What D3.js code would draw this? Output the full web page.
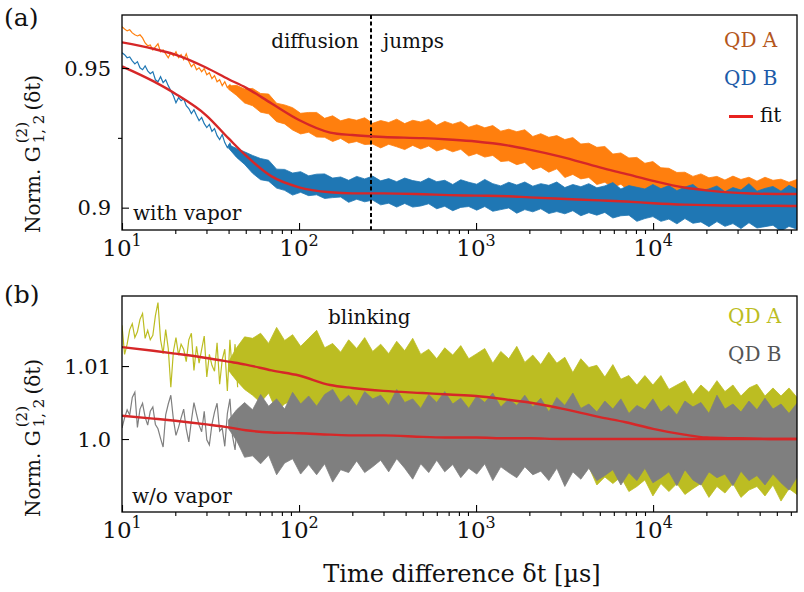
<!DOCTYPE html>
<html>
<head>
<meta charset="utf-8">
<script src="https://cdn.jsdelivr.net/npm/d3@7"></script>
<style>
  body { margin: 0; background: #fff; }
  svg { display: block; }
  text { font-family: "DejaVu Serif", "Liberation Serif", serif; fill: #111; }
</style>
</head>
<body>
<svg id="fig" width="804" height="592"></svg>
<script>
// ---------------- data ----------------
// Sampling times in µs: sparse early trace and dense band (log-spaced)
const earlyT = d3.range(46).map(i => 10 * Math.pow(4.5, i / 45));
const bandT = d3.range(72).map(k => 40 * Math.pow(65000 / 40, k / 71));
const fitT = [10, 15, 20, 30, 40, 50, 70, 100, 150, 200, 300, 500, 700, 1000, 1500,
  2000, 3000, 5000, 7000, 10000, 15000, 20000, 30000, 50000, 65000];

// (a) with vapor — QD A
const aEarlyA = [0.9648,0.9640,0.9633,0.9637,0.9626,0.9619,0.9615,0.9619,0.9608,0.9590,
  0.9580,0.9583,0.9565,0.9576,0.9587,0.9558,0.9565,0.9551,0.9537,0.9555,
  0.9544,0.9558,0.9537,0.9548,0.9530,0.9551,0.9523,0.9505,0.9515,0.9494,
  0.9501,0.9487,0.9498,0.9476,0.9483,0.9462,0.9473,0.9451,0.9458,0.9437,
  0.9451,0.9430,0.9440,0.9419,0.9433,0.9412];
const aHiA = [0.9436,0.9438,0.9425,0.9427,0.9409,0.9407,0.9374,0.9368,0.9358,0.9338,
  0.9341,0.9341,0.9320,0.9329,0.9311,0.9319,0.9313,0.9322,0.9302,0.9312,
  0.9305,0.9317,0.9301,0.9313,0.9307,0.9316,0.9295,0.9309,0.9299,0.9308,
  0.9288,0.9297,0.9286,0.9294,0.9274,0.9281,0.9272,0.9279,0.9255,0.9265,
  0.9252,0.9258,0.9244,0.9251,0.9228,0.9231,0.9216,0.9219,0.9192,0.9196,
  0.9178,0.9180,0.9159,0.9165,0.9143,0.9141,0.9126,0.9127,0.9112,0.9121,
  0.9107,0.9112,0.9099,0.9113,0.9101,0.9109,0.9095,0.9109,0.9098,0.9102,
  0.9091,0.9101];
const aLoA = [0.9424,0.9402,0.9375,0.9365,0.9342,0.9336,0.9308,0.9300,0.9278,0.9264,
  0.9270,0.9253,0.9252,0.9237,0.9248,0.9231,0.9237,0.9226,0.9228,0.9214,
  0.9227,0.9218,0.9208,0.9223,0.9210,0.9221,0.9203,0.9212,0.9200,0.9209,
  0.9185,0.9194,0.9181,0.9187,0.9165,0.9168,0.9154,0.9162,0.9136,0.9145,
  0.9127,0.9139,0.9108,0.9119,0.9103,0.9108,0.9083,0.9091,0.9073,0.9084,
  0.9060,0.9064,0.9048,0.9056,0.9035,0.9040,0.9025,0.9035,0.9018,0.9020,
  0.9006,0.9013,0.9003,0.9010,0.8993,0.9001,0.8993,0.9006,0.8990,0.9001,
  0.8993,0.9000];
const aFitA = [0.9592,0.9569,0.9548,0.9501,0.9460,0.9430,0.9373,0.9314,0.9269,0.9260,
  0.9253,0.9249,0.9244,0.9237,0.9223,0.9208,0.9183,0.9144,0.9121,0.9096,
  0.9072,0.9062,0.9053,0.9049,0.9049];

// (a) with vapor — QD B
const aEarlyB = [0.9555,0.9548,0.9537,0.9540,0.9526,0.9515,0.9523,0.9501,0.9494,0.9508,
  0.9490,0.9480,0.9487,0.9458,0.9451,0.9469,0.9448,0.9458,0.9437,0.9419,
  0.9401,0.9376,0.9394,0.9383,0.9390,0.9365,0.9355,0.9337,0.9351,0.9330,
  0.9312,0.9323,0.9301,0.9287,0.9298,0.9273,0.9283,0.9258,0.9244,0.9262,
  0.9233,0.9215,0.9230,0.9205,0.9212,0.9190];
const aHiB = [0.9225,0.9212,0.9200,0.9187,0.9176,0.9170,0.9138,0.9137,0.9124,0.9129,
  0.9114,0.9120,0.9121,0.9106,0.9110,0.9098,0.9112,0.9103,0.9113,0.9096,
  0.9104,0.9093,0.9106,0.9097,0.9092,0.9106,0.9093,0.9098,0.9083,0.9100,
  0.9091,0.9084,0.9101,0.9086,0.9078,0.9091,0.9081,0.9092,0.9077,0.9086,
  0.9080,0.9092,0.9072,0.9083,0.9075,0.9086,0.9071,0.9078,0.9090,0.9067,
  0.9079,0.9073,0.9067,0.9083,0.9068,0.9079,0.9061,0.9074,0.9083,0.9061,
  0.9067,0.9078,0.9057,0.9072,0.9063,0.9086,0.9059,0.9069,0.9076,0.9059,
  0.9080,0.9066];
const aLoB = [0.9213,0.9180,0.9155,0.9123,0.9100,0.9095,0.9070,0.9062,0.9045,0.9055,
  0.9043,0.9046,0.9033,0.9036,0.9038,0.9019,0.9030,0.9021,0.9027,0.9010,
  0.9016,0.9002,0.9015,0.9002,0.9006,0.9014,0.8996,0.9005,0.8989,0.9001,
  0.9004,0.8991,0.9004,0.8987,0.8993,0.8999,0.8980,0.8993,0.8985,0.8996,
  0.8979,0.8986,0.8978,0.8989,0.8971,0.8982,0.8973,0.8983,0.8963,0.8971,
  0.8973,0.8951,0.8961,0.8968,0.8951,0.8959,0.8942,0.8961,0.8944,0.8949,
  0.8932,0.8950,0.8933,0.8943,0.8925,0.8946,0.8927,0.8932,0.8937,0.8916,
  0.8933,0.8923];
const aFitB = [0.9506,0.9453,0.9408,0.9330,0.9248,0.9187,0.9112,0.9073,0.9055,0.9051,
  0.9051,0.9048,0.9045,0.9043,0.9041,0.9037,0.9032,0.9026,0.9022,0.9016,
  0.9011,0.9009,0.9007,0.9007,0.9006];

// (b) w/o vapor — QD A
const bEarlyA = [1.0156,1.0116,1.0130,1.0150,1.0158,1.0139,1.0147,1.0164,1.0172,1.0138,
  1.0149,1.0136,1.0142,1.0169,1.0187,1.0136,1.0117,1.0150,1.0124,1.0071,
  1.0120,1.0139,1.0115,1.0130,1.0123,1.0106,1.0136,1.0145,1.0094,1.0127,
  1.0104,1.0123,1.0141,1.0085,1.0116,1.0101,1.0093,1.0132,1.0075,1.0109,
  1.0123,1.0066,1.0136,1.0087,1.0130,1.0071];
const bHiA = [1.0106,1.0125,1.0140,1.0138,1.0145,1.0131,1.0153,1.0135,1.0143,1.0127,
  1.0138,1.0149,1.0125,1.0131,1.0119,1.0136,1.0124,1.0139,1.0120,1.0130,
  1.0117,1.0134,1.0121,1.0138,1.0116,1.0123,1.0110,1.0125,1.0115,1.0128,
  1.0110,1.0117,1.0124,1.0104,1.0120,1.0110,1.0127,1.0105,1.0115,1.0102,
  1.0119,1.0104,1.0112,1.0091,1.0110,1.0098,1.0101,1.0085,1.0102,1.0082,
  1.0087,1.0074,1.0087,1.0074,1.0087,1.0068,1.0074,1.0080,1.0061,1.0074,
  1.0064,1.0080,1.0065,1.0074,1.0059,1.0070,1.0075,1.0059,1.0070,1.0059,
  1.0070,1.0057];
const bLoA = [1.0094,1.0080,1.0068,1.0060,1.0050,1.0063,1.0038,1.0048,1.0053,1.0037,
  1.0049,1.0033,1.0050,1.0040,1.0034,1.0046,1.0026,1.0041,1.0033,1.0046,
  1.0027,1.0037,1.0040,1.0025,1.0040,1.0016,1.0025,1.0030,1.0015,1.0025,
  1.0007,1.0023,1.0005,1.0004,1.0007,0.9985,0.9995,0.9977,0.9989,0.9959,
  0.9971,0.9973,0.9954,0.9962,0.9950,0.9962,0.9937,0.9948,0.9939,0.9948,
  0.9928,0.9935,0.9944,0.9922,0.9939,0.9928,0.9939,0.9924,0.9932,0.9939,
  0.9920,0.9935,0.9926,0.9939,0.9920,0.9930,0.9935,0.9922,0.9937,0.9915,
  0.9932,0.9924];
const bFitA = [1.0126,1.0121,1.0117,1.0111,1.0106,1.0102,1.0094,1.0087,1.0074,1.0070,
  1.0066,1.0063,1.0061,1.0059,1.0054,1.0050,1.0042,1.0030,1.0023,1.0014,
  1.0006,1.0002,1.0001,1.0000,1.0000];

// (b) w/o vapor — QD B
const bEarlyB = [1.0015,1.0029,1.0040,1.0033,1.0057,1.0064,1.0016,1.0041,1.0049,1.0030,
  1.0019,1.0038,1.0044,1.0020,1.0014,1.0001,0.9989,1.0033,1.0048,1.0060,
  1.0027,1.0005,1.0016,1.0029,1.0041,1.0014,0.9996,1.0025,1.0050,1.0034,
  1.0019,1.0010,1.0038,0.9999,0.9992,1.0020,1.0037,1.0049,1.0011,1.0015,
  0.9990,1.0035,1.0055,1.0004,0.9985,1.0030];
const bHiB = [1.0026,1.0040,1.0050,1.0040,1.0061,1.0045,1.0055,1.0041,1.0064,1.0048,
  1.0059,1.0045,1.0061,1.0068,1.0050,1.0060,1.0045,1.0065,1.0055,1.0060,
  1.0046,1.0068,1.0050,1.0055,1.0042,1.0061,1.0050,1.0065,1.0048,1.0056,
  1.0042,1.0059,1.0050,1.0063,1.0044,1.0055,1.0046,1.0060,1.0044,1.0056,
  1.0037,1.0057,1.0046,1.0063,1.0042,1.0048,1.0037,1.0052,1.0041,1.0055,
  1.0035,1.0046,1.0040,1.0055,1.0037,1.0046,1.0033,1.0052,1.0044,1.0050,
  1.0035,1.0060,1.0041,1.0048,1.0037,1.0052,1.0040,1.0056,1.0041,1.0048,
  1.0035,1.0049];
const bLoB = [1.0014,0.9998,0.9975,0.9977,0.9966,0.9978,0.9951,0.9967,0.9973,0.9952,
  0.9965,0.9951,0.9966,0.9941,0.9958,0.9954,0.9970,0.9954,0.9962,0.9971,
  0.9955,0.9973,0.9960,0.9945,0.9966,0.9954,0.9971,0.9955,0.9965,0.9947,
  0.9960,0.9952,0.9966,0.9943,0.9962,0.9954,0.9947,0.9962,0.9951,0.9956,
  0.9943,0.9960,0.9935,0.9955,0.9945,0.9960,0.9943,0.9950,0.9958,0.9937,
  0.9954,0.9943,0.9960,0.9940,0.9947,0.9955,0.9936,0.9958,0.9944,0.9937,
  0.9955,0.9947,0.9952,0.9936,0.9956,0.9943,0.9950,0.9937,0.9952,0.9940,
  0.9930,0.9948];
const bFitB = [1.0032,1.0028,1.0025,1.0020,1.0016,1.0012,1.0009,1.0008,1.0006,1.0005,
  1.0005,1.0003,1.0002,1.0002,1.0001,1.0001,1.0000,1.0000,1.0000,1.0000,
  1.0000,1.0000,1.0000,1.0000,1.0000];

// Axis ticks and labels
const xMajor = [10, 100, 1000, 10000];
const xMajorExp = ["1", "2", "3", "4"];
const aYTicks = [0.9, 0.95], aYLabels = ["0.9", "0.95"], aYMinor = [0.925];
const bYTicks = [1.0, 1.01], bYLabels = ["1.0", "1.01"], bYMinor = [];
const jumpStart = 255; // µs, boundary between diffusion and jump regimes

// ---------------- drawing ----------------
const svg = d3.select("#fig");
const x = d3.scaleLog().domain([10, 65000]).range([122, 797]);
const xMinor = [];
[10, 100, 1000, 10000].forEach(dec => d3.range(2, 10).forEach(m => {
  if (m * dec < 65000) xMinor.push(m * dec);
}));

const FIT = "#d62728";

const panels = [
  { id: "a", top: 15, bottom: 230, domain: [0.892, 0.969],
    yTicks: aYTicks, yLabels: aYLabels, yMinor: aYMinor,
    series: [
      { early: aEarlyA, hi: aHiA, lo: aLoA, fit: aFitA, color: "#ff7f0e" },
      { early: aEarlyB, hi: aHiB, lo: aLoB, fit: aFitB, color: "#1f77b4" }
    ] },
  { id: "b", top: 296, bottom: 512, domain: [0.99, 1.0196],
    yTicks: bYTicks, yLabels: bYLabels, yMinor: bYMinor,
    series: [
      { early: bEarlyA, hi: bHiA, lo: bLoA, fit: bFitA, color: "#bcbd22" },
      { early: bEarlyB, hi: bHiB, lo: bLoB, fit: bFitB, color: "#7f7f7f" }
    ] }
];

const defs = svg.append("defs");

panels.forEach(p => {
  const y = d3.scaleLinear().domain(p.domain).range([p.bottom, p.top]);
  const [x0, x1] = x.range();

  defs.append("clipPath").attr("id", "clip-" + p.id)
    .append("rect").attr("x", x0).attr("y", p.top)
    .attr("width", x1 - x0).attr("height", p.bottom - p.top);

  const plot = svg.append("g").attr("clip-path", `url(#clip-${p.id})`);

  const band = d3.area()
    .x((d, i) => x(bandT[i]))
    .y0(d => y(d[1]))
    .y1(d => y(d[0]));
  const trace = d3.line().x((d, i) => x(earlyT[i])).y(d => y(d));
  const fitLine = d3.line().x((d, i) => x(fitT[i])).y(d => y(d)).curve(d3.curveMonotoneX);

  p.series.forEach(s => {
    plot.append("path").datum(d3.zip(s.hi, s.lo)).attr("d", band)
      .attr("fill", s.color).attr("stroke", s.color).attr("stroke-width", 0.8)
      .attr("stroke-linejoin", "miter");
    plot.append("path").datum(s.early).attr("d", trace)
      .attr("fill", "none").attr("stroke", s.color).attr("stroke-width", 1.2);
  });

  if (p.id === "a") {
    plot.append("line")
      .attr("x1", x(jumpStart)).attr("x2", x(jumpStart))
      .attr("y1", p.top).attr("y2", p.bottom)
      .attr("stroke", "#000").attr("stroke-width", 2)
      .attr("stroke-dasharray", "4,2.6");
  }

  p.series.forEach(s => {
    plot.append("path").datum(s.fit).attr("d", fitLine)
      .attr("fill", "none").attr("stroke", FIT).attr("stroke-width", 2.4);
  });

  // bottom axis: major ticks point inward, minor ticks outward
  const gx = svg.append("g").attr("transform", `translate(0,${p.bottom})`);
  gx.call(d3.axisBottom(x).tickValues(xMajor).tickSizeInner(-7).tickSizeOuter(0).tickFormat(() => ""));
  gx.call(g => g.select(".domain").remove());
  const gxm = svg.append("g").attr("transform", `translate(0,${p.bottom})`);
  gxm.call(d3.axisBottom(x).tickValues(xMinor).tickSizeInner(4).tickSizeOuter(0).tickFormat(() => ""));
  gxm.call(g => g.select(".domain").remove());

  xMajor.forEach((v, i) => {
    const t = svg.append("text").attr("x", x(v)).attr("y", p.bottom + 26)
      .attr("text-anchor", "middle").attr("font-size", 23);
    t.append("tspan").text("10");
    t.append("tspan").attr("dy", -10).attr("font-size", 16).text(xMajorExp[i]);
  });

  // left axis
  const gy = svg.append("g").attr("transform", `translate(${x0},0)`);
  gy.call(d3.axisLeft(y).tickValues(p.yTicks).tickSizeInner(-7).tickSizeOuter(0).tickFormat(() => ""));
  gy.call(g => g.select(".domain").remove());
  if (p.yMinor.length) {
    const gym = svg.append("g").attr("transform", `translate(${x0},0)`);
    gym.call(d3.axisLeft(y).tickValues(p.yMinor).tickSizeInner(4).tickSizeOuter(0).tickFormat(() => ""));
    gym.call(g => g.select(".domain").remove());
  }
  p.yTicks.forEach((v, i) => {
    svg.append("text").attr("x", 111).attr("y", y(v) + 7.5)
      .attr("text-anchor", "end").attr("font-size", 21).text(p.yLabels[i]);
  });

  svg.selectAll(".tick line").attr("stroke", "#000").attr("stroke-width", 1.1);

  // frame
  svg.append("rect").attr("x", x0).attr("y", p.top)
    .attr("width", x1 - x0).attr("height", p.bottom - p.top)
    .attr("fill", "none").attr("stroke", "#000").attr("stroke-width", 1.3);

  // y label: Norm. G^{(2)}_{1,2}(δt)
  const start = p.id === "a" ? 233 : 517;
  const gl = svg.append("g").attr("transform", `translate(40,${start}) rotate(-90)`);
  const t1 = gl.append("text").attr("x", 0).attr("y", 0).attr("font-size", 20).text("Norm. G");
  const w1 = t1.node().getComputedTextLength();
  const sx = w1 + 3;
  const sup = gl.append("text").attr("x", sx).attr("y", -13).attr("font-size", 15).text("(2)");
  const sub = gl.append("text").attr("x", sx).attr("y", 4).attr("font-size", 15).text("1, 2");
  const ws = Math.max(sup.node().getComputedTextLength(), sub.node().getComputedTextLength());
  gl.append("text").attr("x", sx + ws + 4).attr("y", 0).attr("font-size", 20).text("(δt)");
});

// panel letters
svg.append("text").attr("x", 4).attr("y", 26).attr("font-size", 25).text("(a)");
svg.append("text").attr("x", 4).attr("y", 303).attr("font-size", 25).text("(b)");

// annotations
const ann = [
  { t: "diffusion", x: 359, y: 48, anchor: "end" },
  { t: "jumps", x: 383, y: 48, anchor: "start" },
  { t: "with vapor", x: 133, y: 220, anchor: "start" },
  { t: "w/o vapor", x: 132, y: 503, anchor: "start" },
  { t: "blinking", x: 328, y: 324, anchor: "start" }
];
ann.forEach(a => svg.append("text").attr("x", a.x).attr("y", a.y)
  .attr("text-anchor", a.anchor).attr("font-size", 20).text(a.t));

// legends
const legend = [
  { t: "QD A", x: 724, y: 47, c: "#b4561c" },
  { t: "QD B", x: 724, y: 85, c: "#1c5aa8" },
  { t: "fit", x: 760, y: 122, c: "#111" },
  { t: "QD A", x: 728, y: 323, c: "#bcbd22" },
  { t: "QD B", x: 728, y: 361, c: "#555555" }
];
legend.forEach(l => svg.append("text").attr("x", l.x).attr("y", l.y)
  .attr("font-size", 20).style("fill", l.c).text(l.t));
svg.append("line").attr("x1", 729).attr("x2", 753).attr("y1", 116.5).attr("y2", 116.5)
  .attr("stroke", "#e8221f").attr("stroke-width", 3);

// x axis title
svg.append("text").attr("x", 462).attr("y", 582).attr("text-anchor", "middle")
  .attr("font-size", 24).text("Time difference δt [µs]");
</script>
</body>
</html>
